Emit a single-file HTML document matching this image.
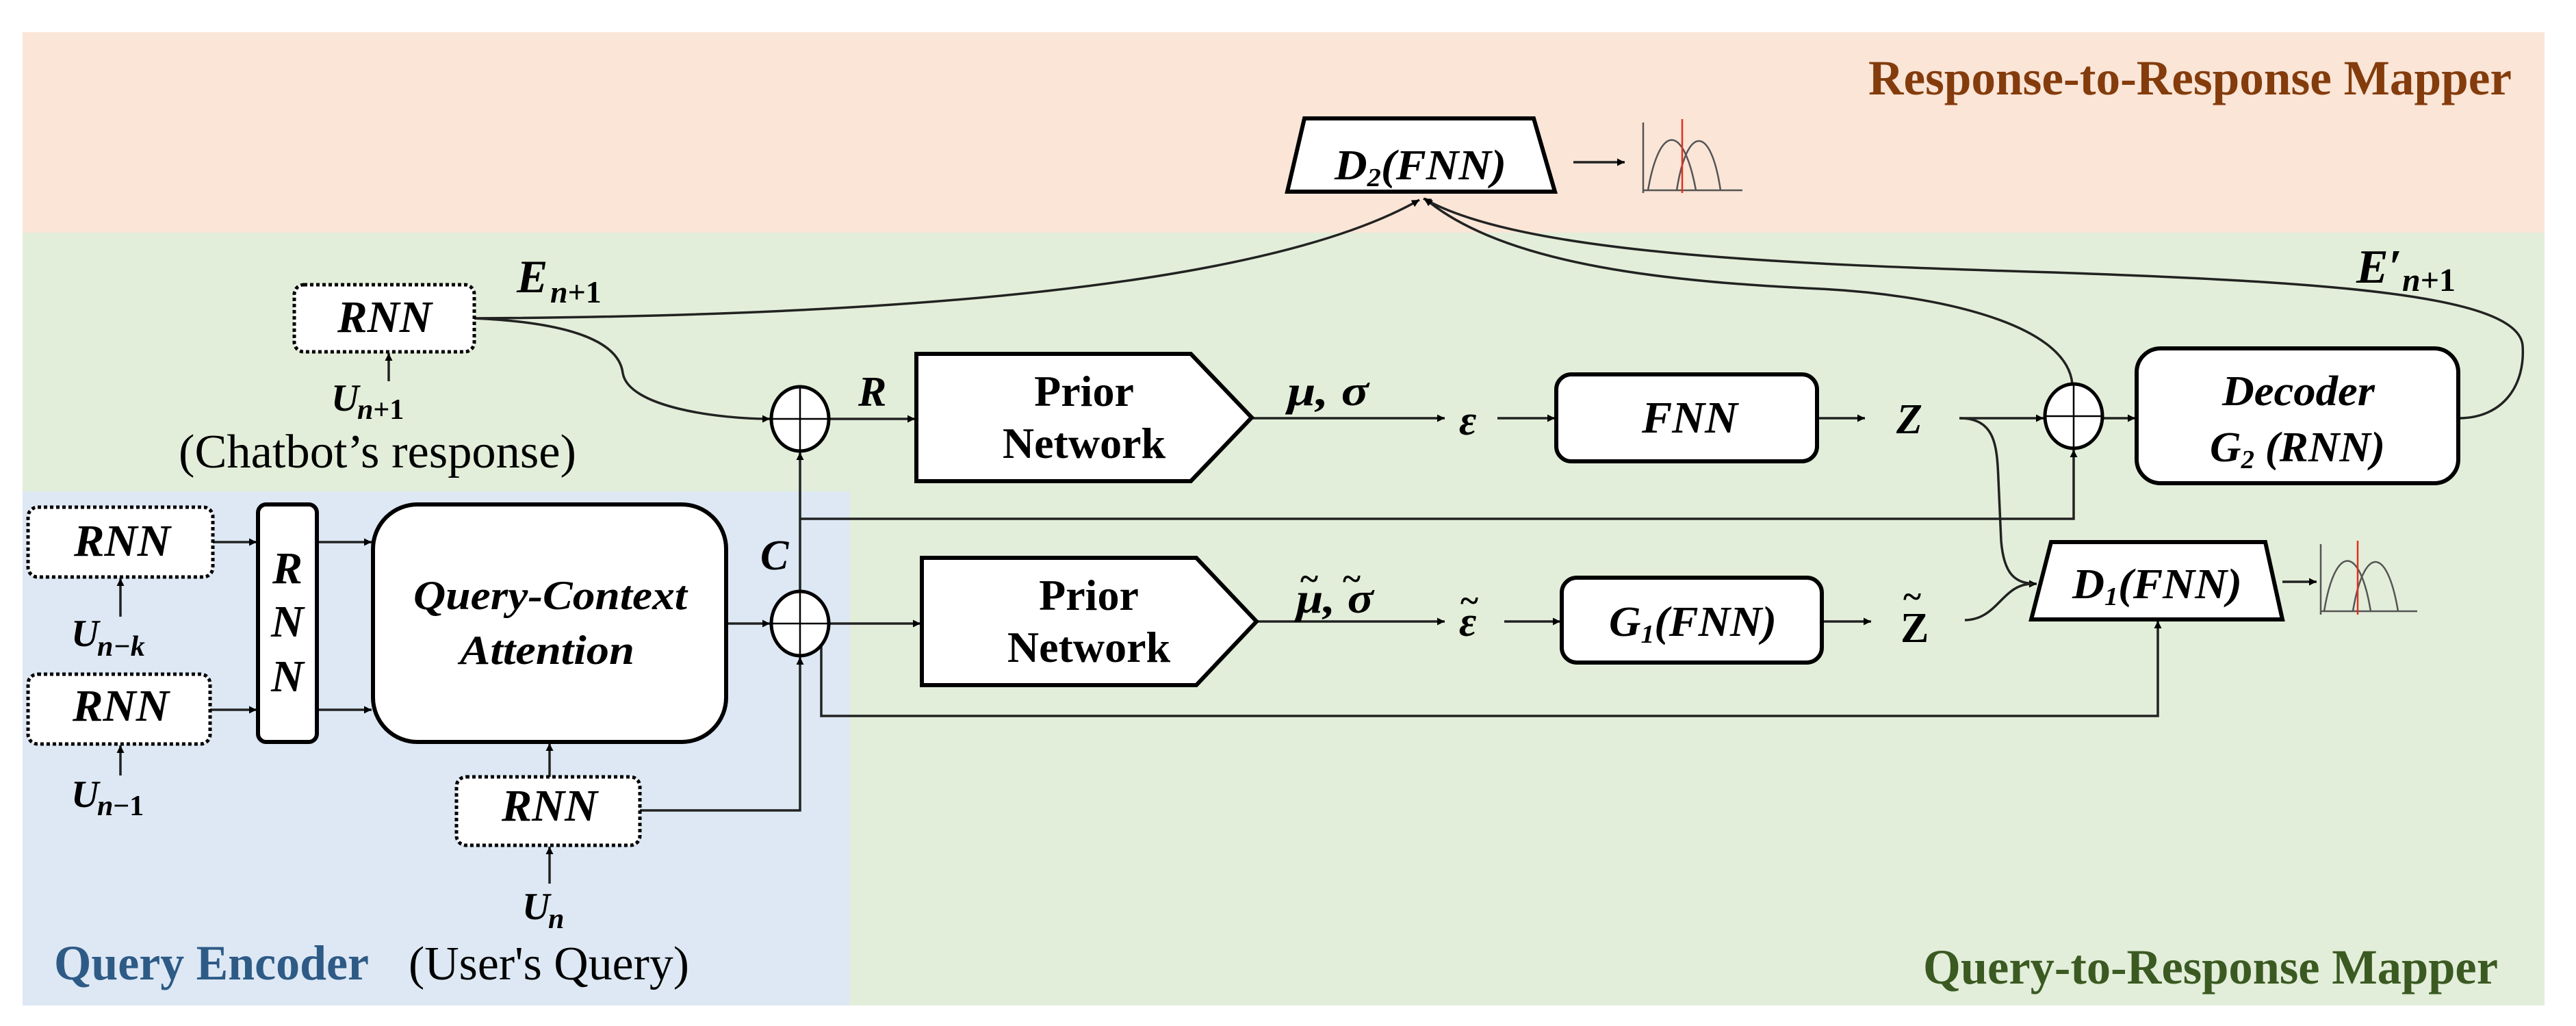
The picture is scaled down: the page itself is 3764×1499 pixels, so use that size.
<!DOCTYPE html>
<html><head><meta charset="utf-8"><style>
html,body{margin:0;padding:0;background:#fff}
svg{display:block}
text{font-family:"Liberation Serif",serif}
.bi{font-weight:bold;font-style:italic}
.b{font-weight:bold}
</style></head><body>
<svg width="3764" height="1499" viewBox="0 0 3764 1499" xmlns="http://www.w3.org/2000/svg">
<defs>
<marker id="a" viewBox="0 0 10 10" refX="10" refY="5" markerWidth="12" markerHeight="11" markerUnits="userSpaceOnUse" orient="auto"><path d="M0,0 L10,5 L0,10 z" fill="#000"/></marker>
</defs>
<style>
.ln{fill:none;stroke:#222;stroke-width:3.5}
.ar{marker-end:url(#a)}
.bx{fill:#fff;stroke:#000;stroke-width:6}
.dt{fill:#fff;stroke:#000;stroke-width:5;stroke-dasharray:5 4}
</style>
<rect x="33" y="47" width="3685" height="293" fill="#fae5d7"/>
<rect x="33" y="340" width="3685" height="1129" fill="#e2eed9"/>
<rect x="33" y="718" width="1209" height="751" fill="#dde8f4"/>

<text x="3670" y="138" text-anchor="end" class="b" font-size="72" fill="#843c0c" textLength="940" lengthAdjust="spacingAndGlyphs">Response-to-Response Mapper</text>
<text x="3650" y="1437" text-anchor="end" class="b" font-size="72" fill="#3b5a22" textLength="840" lengthAdjust="spacingAndGlyphs">Query-to-Response Mapper</text>
<text x="79" y="1431" class="b" font-size="72" fill="#2e5a86" textLength="460" lengthAdjust="spacingAndGlyphs">Query Encoder</text>
<text x="597" y="1431" font-size="70" fill="#000" textLength="410" lengthAdjust="spacingAndGlyphs">(User's Query)</text>
<text x="261" y="683" font-size="70" fill="#000" textLength="581" lengthAdjust="spacingAndGlyphs">(Chatbot’s response)</text>

<path class="ln ar" d="M693,465 C1300,462 1850,420 2074,292"/>
<path class="ln ar" d="M693,465 C850,472 905,505 910,545 C918,595 1050,612 1125,612"/>
<path class="ln ar" d="M1212,612 L1337,612"/>
<path class="ln ar" d="M1061,911 L1125,911"/>
<path class="ln ar" d="M1212,911 L1345,911"/>
<path class="ln ar" d="M1169,864 L1169,661"/>
<path class="ln ar" d="M1169,758 L3030,758 L3030,657"/>
<path class="ln ar" d="M1200,940 L1200,1046 L3153,1046 L3153,907"/>
<path class="ln ar" d="M935,1184 L1169,1184 L1169,960"/>
<path class="ln ar" d="M311,792 L375,792"/>
<path class="ln ar" d="M307,1037 L375,1037"/>
<path class="ln ar" d="M463,792 L543,792"/>
<path class="ln ar" d="M463,1037 L543,1037"/>
<path class="ln ar" d="M176,901 L176,845"/>
<path class="ln ar" d="M176,1133 L176,1089"/>
<path class="ln ar" d="M803,1291 L803,1237"/>
<path class="ln ar" d="M803,1135 L803,1086"/>
<path class="ln ar" d="M568,557 L568,516"/>
<path class="ln ar" d="M1829,611 L2111,611"/>
<path class="ln ar" d="M2188,611 L2272,611"/>
<path class="ln ar" d="M2655,611 L2725,611"/>
<path class="ln ar" d="M2863,611 L2986,611"/>
<path class="ln ar" d="M3072,611 L3120,611"/>
<path class="ln ar" d="M1836,908 L2111,908"/>
<path class="ln ar" d="M2198,908 L2280,908"/>
<path class="ln ar" d="M2662,908 L2734,908"/>
<path class="ln ar" d="M2863,611 C2915,611 2918,650 2920,700 L2924,790 C2928,840 2945,853 2976,853"/>
<path class="ln" d="M2871,906 C2920,905 2925,853 2970,853"/>
<path class="ln ar" d="M3335,850 L3385,850"/>
<path class="ln ar" d="M2299,237 L2374,237"/>
<path class="ln ar" d="M3592,611 C3660,611 3690,560 3686,505 C3680,430 3400,412 3000,398 C2600,386 2220,370 2080,290"/>
<path class="ln ar" d="M3028,561 C3020,470 2820,430 2660,422 C2450,412 2200,390 2082,290"/>

<g fill="#fff" stroke="#000" stroke-width="5">
<ellipse cx="1169" cy="612" rx="42" ry="47"/>
<ellipse cx="1169" cy="911" rx="42" ry="47"/>
<ellipse cx="3030" cy="608" rx="42" ry="47"/>
</g>
<g stroke="#000" stroke-width="2.5">
<line x1="1127" y1="612" x2="1211" y2="612"/><line x1="1169" y1="565" x2="1169" y2="659"/>
<line x1="1127" y1="911" x2="1211" y2="911"/><line x1="1169" y1="864" x2="1169" y2="958"/>
<line x1="2988" y1="608" x2="3072" y2="608"/><line x1="3030" y1="561" x2="3030" y2="655"/>
</g>

<rect class="dt" x="430" y="416" width="263" height="98" rx="14"/>
<rect class="dt" x="41" y="741" width="270" height="102" rx="14"/>
<rect class="dt" x="41" y="985" width="266" height="102" rx="14"/>
<rect class="dt" x="667" y="1135" width="268" height="100" rx="14"/>
<rect class="bx" x="377" y="737" width="86" height="347" rx="12"/>
<rect class="bx" x="545" y="737" width="516" height="347" rx="65"/>
<path class="bx" d="M1339,517 L1740,517 L1829,610 L1740,703 L1339,703 Z"/>
<path class="bx" d="M1347,815 L1748,815 L1836,908 L1748,1001 L1347,1001 Z"/>
<rect class="bx" x="2274" y="547" width="381" height="127" rx="22"/>
<rect class="bx" x="2282" y="844" width="380" height="124" rx="22"/>
<rect class="bx" x="3122" y="509" width="470" height="197" rx="35"/>
<path class="bx" d="M1906,173 L2241,173 L2272,280 L1881,280 Z"/>
<path class="bx" d="M2997,792 L3310,792 L3335,905 L2968,905 Z"/>

<g fill="none" stroke="#555" stroke-width="2.5">
<path d="M2401,179 L2401,282 M2401,278 L2546,278"/>
<path d="M2408,278 C2425,180 2460,180 2478,278"/>
<path d="M2450,278 C2465,182 2500,182 2514,278"/>
<path d="M3391,795 L3391,898 M3391,893 L3532,893"/>
<path d="M3396,893 C3412,795 3448,795 3464,893"/>
<path d="M3438,893 C3454,797 3488,797 3504,893"/>
</g>
<line x1="2458" y1="174" x2="2458" y2="282" stroke="#e03020" stroke-width="2.5"/>
<line x1="3445" y1="790" x2="3445" y2="898" stroke="#e03020" stroke-width="2.5"/>

<g class="bi" font-size="66" fill="#000">
<text x="493" y="485" textLength="138" lengthAdjust="spacingAndGlyphs">RNN</text>
<text x="108" y="812" textLength="141" lengthAdjust="spacingAndGlyphs">RNN</text>
<text x="106" y="1053" textLength="141" lengthAdjust="spacingAndGlyphs">RNN</text>
<text x="733" y="1199" textLength="140" lengthAdjust="spacingAndGlyphs">RNN</text>
<text x="420" y="852" text-anchor="middle">R</text>
<text x="420" y="930" text-anchor="middle">N</text>
<text x="420" y="1010" text-anchor="middle">N</text>
<text x="604" y="890" font-size="60" textLength="400" lengthAdjust="spacingAndGlyphs">Query-Context</text>
<text x="672" y="970" font-size="60" textLength="255" lengthAdjust="spacingAndGlyphs">Attention</text>
<text x="2399" y="632" textLength="140" lengthAdjust="spacingAndGlyphs">FNN</text>
<text x="3247" y="592" font-size="62" textLength="223" lengthAdjust="spacingAndGlyphs">Decoder</text>
<text x="3229" y="674" font-size="62" textLength="256" lengthAdjust="spacingAndGlyphs">G<tspan font-size="38" dy="10">2</tspan><tspan dy="-10"> (RNN)</tspan></text>
<text x="1950" y="262" font-size="62" textLength="251" lengthAdjust="spacingAndGlyphs">D<tspan font-size="38" dy="10">2</tspan><tspan dy="-10">(FNN)</tspan></text>
<text x="3028" y="874" font-size="62" textLength="248" lengthAdjust="spacingAndGlyphs">D<tspan font-size="38" dy="10">1</tspan><tspan dy="-10">(FNN)</tspan></text>
<text x="2351" y="929" font-size="62" textLength="245" lengthAdjust="spacingAndGlyphs">G<tspan font-size="38" dy="10">1</tspan><tspan dy="-10">(FNN)</tspan></text>
</g>
<g class="b" font-size="64" fill="#000">
<text x="1584" y="593" text-anchor="middle">Prior</text>
<text x="1584" y="669" text-anchor="middle">Network</text>
<text x="1591" y="891" text-anchor="middle">Prior</text>
<text x="1591" y="967" text-anchor="middle">Network</text>
</g>

<g class="bi" fill="#000">
<text x="755" y="427" font-size="68">E</text><text x="804" y="442" font-size="46">n<tspan font-style="normal">+1</tspan></text>
<text x="3443" y="413" font-size="70">E′</text><text x="3510" y="425" font-size="48">n<tspan font-style="normal">+1</tspan></text>
<text x="484" y="600" font-size="56">U</text><text x="522" y="612" font-size="42">n<tspan font-style="normal">+1</tspan></text>
<text x="104" y="944" font-size="56">U</text><text x="142" y="958" font-size="42">n−k</text>
<text x="104" y="1179" font-size="56">U</text><text x="142" y="1191" font-size="42">n<tspan font-style="normal">−1</tspan></text>
<text x="763" y="1343" font-size="56">U</text><text x="801" y="1356" font-size="42">n</text>
<text x="1111" y="832" font-size="62">C</text>
<text x="1254" y="593" font-size="62">R</text>
<text x="1881" y="592" font-size="62" textLength="119" lengthAdjust="spacingAndGlyphs">μ, σ</text>
<text x="1894" y="895" font-size="62" textLength="113" lengthAdjust="spacingAndGlyphs">μ, σ</text>
<text x="2132" y="635" font-size="62">ε</text>
<text x="2132" y="929" font-size="62">ε</text>
<text x="2771" y="633" font-size="62">Z</text>
<text x="2777" y="938" font-size="62" font-style="normal">Z</text>
</g>
<g class="b" font-size="50" fill="#000">
<text x="1900" y="862">~</text>
<text x="1962" y="862">~</text>
<text x="2134" y="894">~</text>
<text x="2781" y="888">~</text>
</g>
</svg>
</body></html>
